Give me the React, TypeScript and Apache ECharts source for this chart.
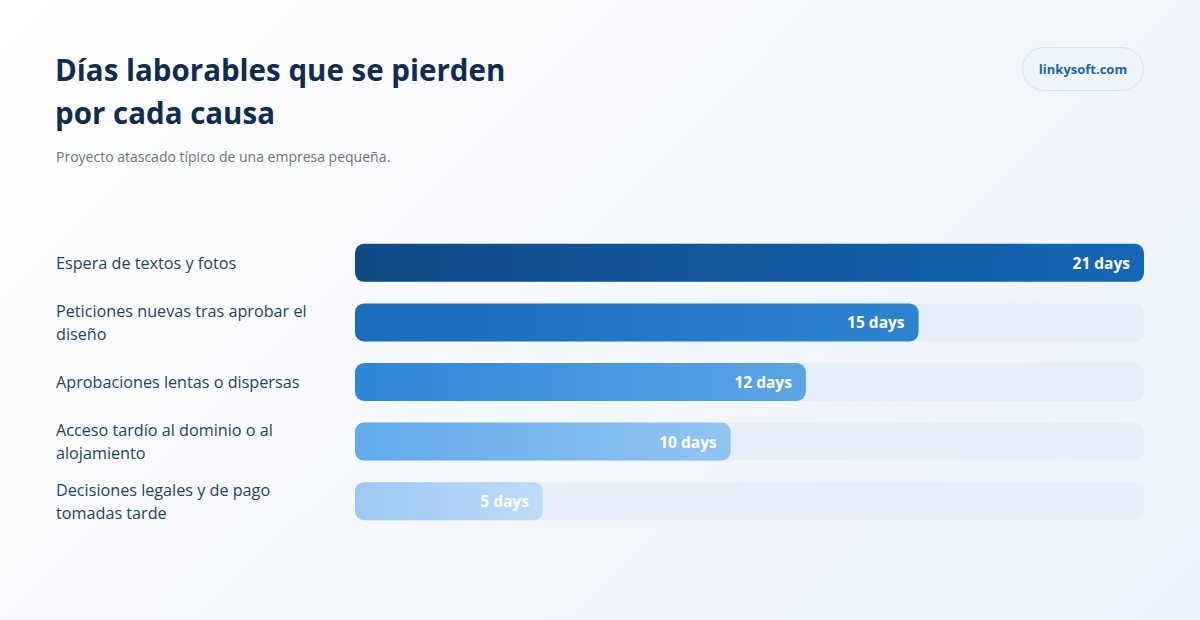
import React, { useEffect, useRef } from "react";
import * as echarts from "echarts";

const categories = [
  "Espera de textos y fotos",
  "Peticiones nuevas tras aprobar el diseño",
  "Aprobaciones lentas o dispersas",
  "Acceso tardío al dominio o al alojamiento",
  "Decisiones legales y de pago tomadas tarde",
];
const days = [21, 15, 12, 10, 5];
const unit = "days";
const axisMax = 21;
const gradients: [string, string][] = [
  ["#0e4a85", "#1567b5"],
  ["#1a6cbc", "#2e83d1"],
  ["#2f86d6", "#5ca5e6"],
  ["#5faaeb", "#93c4f2"],
  ["#9bc9f3", "#bedbf8"],
];

const FONT = "'Open Sans', 'Noto Sans', sans-serif";

export default function App() {
  const ref = useRef<HTMLDivElement>(null);
  useEffect(() => {
    if (!ref.current) return;
    const chart = echarts.init(ref.current, undefined, { renderer: "svg" });
    chart.setOption({
      animation: false,
      textStyle: { fontFamily: FONT },
      title: [
        {
          text: "Días laborables que se pierden\npor cada causa",
          left: 55,
          top: 48,
          padding: 0,
          textStyle: {
            fontFamily: FONT,
            fontSize: 29.5,
            fontWeight: 700,
            color: "#0f2d50",
            lineHeight: 43,
          },
        },
        {
          text: "Proyecto atascado típico de una empresa pequeña.",
          left: 56,
          top: 149,
          padding: 0,
          textStyle: {
            fontFamily: FONT,
            fontSize: 14,
            fontWeight: 400,
            color: "#6b7480",
          },
        },
      ],
      graphic: [
        {
          type: "group",
          left: 1022,
          top: 47,
          children: [
            {
              type: "rect",
              shape: { x: 0, y: 0, width: 121, height: 43, r: 21.5 },
              style: { fill: "#eef5fd", stroke: "#d3e4f5", lineWidth: 1 },
            },
            {
              type: "text",
              x: 60.5,
              y: 21.5,
              style: {
                text: "linkysoft.com",
                fill: "#1a65b2",
                fontFamily: FONT,
                fontSize: 13,
                fontWeight: 700,
                align: "center",
                verticalAlign: "middle",
              },
            },
          ],
        },
      ],
      grid: { left: 355, right: 56, top: 233, bottom: 89, containLabel: false },
      xAxis: {
        type: "value",
        min: 0,
        max: axisMax,
        show: false,
      },
      yAxis: {
        type: "category",
        data: categories,
        inverse: true,
        axisLine: { show: false },
        axisTick: { show: false },
        splitLine: { show: false },
        axisLabel: {
          align: "left",
          margin: 299,
          width: 262,
          overflow: "break",
          fontFamily: FONT,
          fontSize: 16.2,
          lineHeight: 23,
          color: "#1c4470",
        },
      },
      series: [
        {
          type: "bar",
          data: categories.map(() => axisMax),
          barWidth: 38,
          silent: true,
          itemStyle: { color: "#e6eef8", borderRadius: 9 },
          z: 1,
        },
        {
          type: "bar",
          data: days.map((v, i) => ({
            value: v,
            itemStyle: {
              color: new echarts.graphic.LinearGradient(0, 0, 1, 0, [
                { offset: 0, color: gradients[i][0] },
                { offset: 1, color: gradients[i][1] },
              ]),
            },
          })),
          barWidth: 38,
          barGap: "-100%",
          itemStyle: { borderRadius: 9 },
          z: 2,
          label: {
            show: true,
            position: "insideRight",
            distance: 14,
            formatter: (p: any) => `${p.value} ${unit}`,
            color: "#ffffff",
            fontFamily: FONT,
            fontSize: 15.5,
            fontWeight: 700,
          },
        },
      ],
    });
    return () => chart.dispose();
  }, []);
  return (
    <div
      style={{
        position: "fixed",
        left: 0,
        top: 0,
        width: 1200,
        height: 620,
        background: "linear-gradient(135deg, #ffffff 0%, #f5f8fc 50%, #eaf2fb 100%)",
      }}
    >
      <div ref={ref} style={{ width: 1200, height: 620 }} />
    </div>
  );
}
